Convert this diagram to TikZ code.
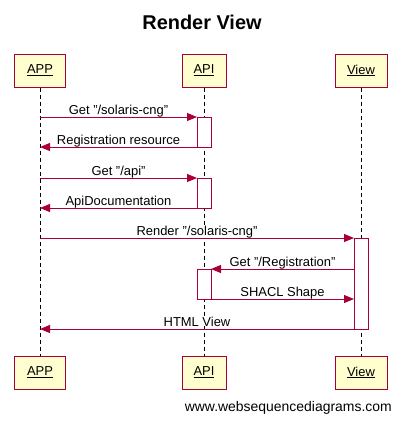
\documentclass[tikz,border=0pt]{standalone}
\usepackage{fontspec}
\setmainfont{Liberation Sans}
\usepackage{tikz}
\usetikzlibrary{calc,arrows.meta}
\definecolor{wsdred}{HTML}{A80036}
\definecolor{wsdfill}{HTML}{FEFECE}
\tikzset{>={Triangle[length=10bp,width=8bp]}}
\tikzset{
  actor/.style={draw=wsdred,fill=wsdfill,line width=1bp,minimum height=33bp,inner xsep=11bp,
    font=\fontsize{13}{15}\selectfont},
  act/.style={draw=wsdred,fill=white,line width=1bp,minimum width=14bp,inner sep=0pt,outer sep=0pt},
  lifeline/.style={line width=1bp,dash pattern=on 4bp off 3bp},
  msg/.style={draw=wsdred,line width=1bp,->},
  msgtext/.style={anchor=base,yshift=3bp,inner sep=0pt,fill=white,font=\fontsize{13}{15}\selectfont}
}

\begin{document}
\begin{tikzpicture}[x=1bp,y=-1bp]
      \useasboundingbox (0,0) rectangle (401,423);
      \node[font=\fontsize{20}{24}\bfseries] (title) at (202,22) {Render View};
      \node[actor,minimum width=50bp] (apptop) at (40,70.5) {\underline{APP}};
      \node[actor,minimum width=44bp] (apitop) at (204,70.5) {\underline{API}};
      \node[actor,minimum width=52bp] (viewtop) at (361,70.5) {\underline{View}};
      \node[actor,minimum width=50bp] (appbot) at (40,372.5) {\underline{APP}};
      \node[actor,minimum width=44bp] (apibot) at (204,372.5) {\underline{API}};
      \node[actor,minimum width=52bp] (viewbot) at (361,372.5) {\underline{View}};
      \draw[lifeline] (apptop) -- (appbot);
      \draw[lifeline] (apitop) -- (apibot);
      \draw[lifeline] (viewtop) -- (viewbot);
      \node[act,minimum height=30bp] (act1) at (204,132) {};
      \node[act,minimum height=30bp] (act2) at (204,193) {};
      \node[act,minimum height=91bp] (act3) at (361,283.5) {};
      \node[act,minimum height=30bp] (act4) at (204,284) {};
      \draw[msg] (apptop |- act1.north west) -- (act1.north west)
        node[msgtext,pos=0.5] {Get "/solaris-cng"};
      \draw[msg] (act1.south west) -- (apptop |- act1.south west)
        node[msgtext,pos=0.5] {Registration resource};
      \draw[msg] (apptop |- act2.north west) -- (act2.north west)
        node[msgtext,pos=0.5] {Get "/api"};
      \draw[msg] (act2.south west) -- (apptop |- act2.south west)
        node[msgtext,pos=0.5] {ApiDocumentation};
      \draw[msg] (apptop |- act3.north west) -- (act3.north west)
        node[msgtext,pos=0.5] {Render "/solaris-cng"};
      \draw[msg] (act3.west |- act4.north east) -- (act4.north east)
        node[msgtext,pos=0.5] {Get "/Registration"};
      \draw[msg] (act4.south east) -- (act3.west |- act4.south east)
        node[msgtext,pos=0.5] {SHACL Shape};
      \draw[msg] (act3.south west) -- (apptop |- act3.south west)
        node[msgtext,pos=0.5] {HTML View};
      \node[anchor=east,inner sep=0pt,font=\fontsize{14}{17}\selectfont] (footer) at (392,408)
        {www.websequencediagrams.com};
    \end{tikzpicture}
\end{document}
